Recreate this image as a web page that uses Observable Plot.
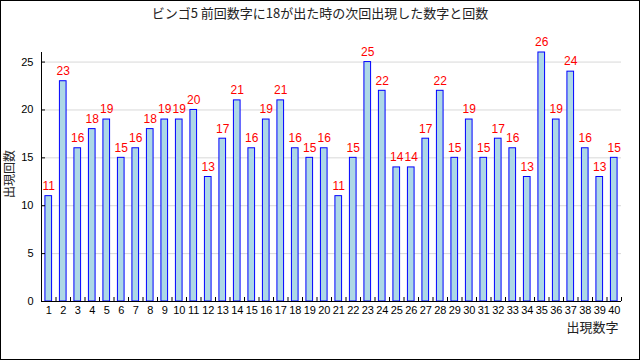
<!DOCTYPE html>
<html>
<head>
<meta charset="utf-8">
<script src="https://cdn.jsdelivr.net/npm/d3@7"></script>
<script src="https://cdn.jsdelivr.net/npm/@observablehq/plot@0.6"></script>
<style>
  html, body { margin: 0; padding: 0; background: #fff; }
  #wrap { position: relative; width: 640px; height: 360px; box-sizing: border-box; border: 1px solid #000; background: #fff; overflow: hidden; }
  #title { height: 23px; line-height: 23px; text-align: center; font-family: "Noto Sans CJK JP", "DejaVu Sans", sans-serif; font-size: 13px; color: #222; }
  svg { display: block; }
</style>
</head>
<body>
<div id="wrap">
  <div id="title">ビンゴ5 前回数字に18が出た時の次回出現した数字と回数</div>
  <div id="chart"></div>
</div>
<script>
const numbers = [1,2,3,4,5,6,7,8,9,10,11,12,13,14,15,16,17,18,19,20,21,22,23,24,25,26,27,28,29,30,31,32,33,34,35,36,37,38,39,40];
const counts  = [11,23,16,18,19,15,16,18,19,19,20,13,17,21,16,19,21,16,15,16,11,15,25,22,14,14,17,22,15,19,15,17,16,13,26,19,24,16,13,15];
const yTicks = [0,5,10,15,20,25];
const xLabel = "出現数字";
const yLabel = "出現回数";

const data = numbers.map((n, i) => ({n, v: counts[i]}));
const boundaries = d3.range(0, numbers.length + 1).map(i => i + 0.5);

const plot = Plot.plot({
  width: 638,
  height: 335,
  marginLeft: 40,
  marginRight: 18,
  marginTop: 28,
  marginBottom: 58,
  style: {fontFamily: "'Liberation Sans', 'Noto Sans CJK JP', sans-serif", fontSize: "11px", color: "#000", background: "#fff"},
  x: {type: "linear", domain: [0.5, 40.5]},
  y: {domain: [0, 26]},
  marks: [
    Plot.gridY(yTicks.filter(d => d > 0), {stroke: "#d8d8d8", strokeOpacity: 1}),
    Plot.rectY(data, {x1: d => d.n - 0.23, x2: d => d.n + 0.23, y: "v", fill: "#add8e6", stroke: "#0000ff", strokeWidth: 1}),
    Plot.text(data, {x: "n", y: "v", text: d => String(d.v), dy: -10, fill: "#ff0000", fontSize: 12}),
    Plot.ruleX([0.5], {stroke: "#000"}),
    Plot.ruleY([0], {stroke: "#000"}),
    Plot.axisY({ticks: yTicks, tickSize: -4, tickPadding: 12, label: null, fontSize: 11}),
    Plot.axisX({ticks: boundaries, tickSize: -4, tickFormat: () => "", label: null}),
    Plot.axisX({ticks: numbers, tickSize: 0, tickPadding: 5, tickFormat: d => String(d), label: null, fontSize: 11}),
    Plot.text([xLabel], {frameAnchor: "bottom-right", dy: 26, dx: -3, textAnchor: "end", lineAnchor: "middle", fontSize: 13, fontFamily: "'Noto Sans CJK JP', sans-serif", fill: "#222"}),
    Plot.text([yLabel], {frameAnchor: "left", dx: -31, dy: -3, rotate: -90, textAnchor: "middle", lineAnchor: "middle", fontSize: 12, fontFamily: "'Noto Sans CJK JP', sans-serif", fill: "#222"})
  ]
});
document.getElementById("chart").appendChild(plot);
</script>
</body>
</html>
